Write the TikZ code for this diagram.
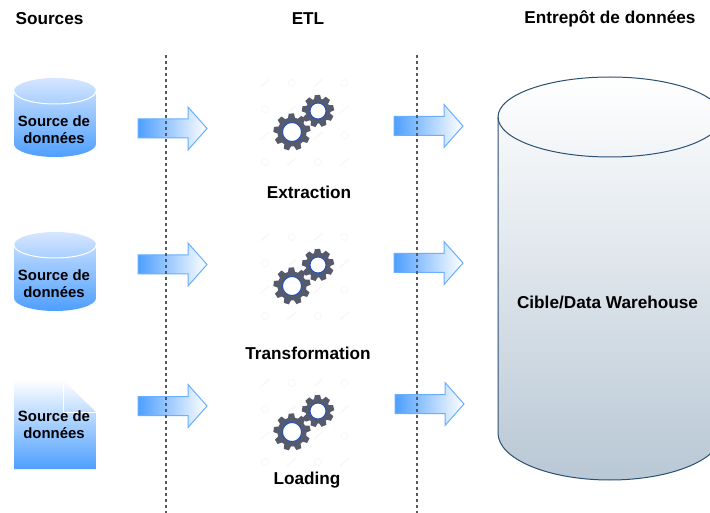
\documentclass[tikz,border=0pt]{standalone}
\usepackage{fontspec}
\setmainfont{Liberation Sans}
\definecolor{srcblue}{HTML}{4D9FFF}
\definecolor{srclight}{HTML}{D6E6FF}
\definecolor{arrowline}{HTML}{6AAEFF}
\definecolor{dwline}{HTML}{2B5072}
\definecolor{dwfill}{HTML}{B9C8D5}
\definecolor{gearc}{HTML}{555A6C}
\definecolor{gearring}{HTML}{1D4FC4}
\definecolor{mark}{HTML}{F8F8F8}
\tikzset{
  title/.style={font=\bfseries\fontsize{17.2}{20}\selectfont,align=center,text=black,inner sep=0pt},
  srclabel/.style={font=\bfseries\fontsize{14.9}{17}\selectfont,align=center,text=black,inner sep=0pt},
  sep/.style={draw=black!65,line width=1.2pt,dash pattern=on 3pt off 3pt},
  flow/.style={left color=srcblue,right color=white,draw=arrowline,line width=1pt,line join=miter},
  wm/.style={draw=mark,line width=1.6pt,line cap=round},
}
\newcommand{\flowarrow}[2]{% left x, centre y
  \path[flow,shift={(#1,#2)}] (0,-9.5) -- (50,-9.5) -- (50,-21.5) -- (69,0) -- (50,21.5) -- (50,9.5) -- (0,9.5) -- cycle;
}
\newcommand{\onegear}[6]{% x,y,root r,outer r,hole r,teeth
  \begin{scope}[shift={(#1,#2)}]
    \fill[gearc] (0,0) circle[radius=#3];
    \foreach \k in {1,...,#6}{
      \pgfmathsetmacro\ang{\k*360/#6+12}
      \fill[gearc,rotate=\ang] (#3-1,-3.6) -- (#4,-2.6) -- (#4,2.6) -- (#3-1,3.6) -- cycle;
    }
    \path[fill=white,draw=gearring,line width=.9pt] (0,0) circle[radius=#5];
  \end{scope}
}
\newcommand{\watermarks}[1]{% top row y
  \foreach \r in {0,1,2,3}{
    \foreach \c in {0,1,2,3}{
      \pgfmathsetmacro\mx{265+26.5*\c}
      \pgfmathsetmacro\my{#1+26.3*\r}
      \pgfmathparse{int(mod(\r+\c,2))}
      \ifnum\pgfmathresult=0
        \draw[wm] (\mx-4,\my+3.5) -- (\mx+4,\my-3.5);
      \else
        \draw[draw=mark,line width=1pt] (\mx,\my) circle[radius=3.5];
      \fi
    }
  }
}
\newcommand{\gearpair}[1]{% y of big gear
  \watermarks{#1-49}
  \onegear{318}{#1-21}{12.5}{16}{8}{9}
  \onegear{292}{#1}{14.5}{18.5}{9.5}{9}
}
\newcommand{\dbcyl}[1]{% top y
  \begin{scope}[shift={(55,#1)}]
    \path[top color=srclight,bottom color=srcblue] (-41,13) arc[start angle=180,end angle=0,x radius=41,y radius=-13] -- (41,66) arc[start angle=0,end angle=-180,x radius=41,y radius=-13] -- cycle;
    \draw[white,line width=1pt] (-41,13) arc[start angle=180,end angle=0,x radius=41,y radius=13];
  \end{scope}
}
\begin{document}
\begin{tikzpicture}[x=1pt,y=-1pt]
\clip (0,0) rectangle (710,513);
\fill[white] (0,0) rectangle (710,513);

% titles
\node[title] (tsources) at (49.5,18.5) {Sources};
\node[title] (tetl) at (308,18.5) {ETL};
\node[title] (tdw) at (610,18.5) {Entrepôt de données};

% sources
\dbcyl{78}
\node[srclabel] (s1) at (54,129.5) {Source de\\[0.5pt]données};
\dbcyl{232}
\node[srclabel] (s2) at (54,283.5) {Source de\\[0.5pt]données};
\path[top color=white,bottom color=srcblue] (14,380) -- (63,380) -- (96,412) -- (96,469) -- (14,469) -- cycle;
\draw[white,line width=1pt] (63,380) -- (63,412) -- (96,412);
\node[srclabel] (s3) at (54,424.5) {Source de\\[0.5pt]données};

% gears
\gearpair{132}
\gearpair{286}
\gearpair{432}
\node[title] (l1) at (309,192) {Extraction};
\node[title] (l2) at (308,353) {Transformation};
\node[title] (l3) at (307,480) {Loading};

% arrows
\flowarrow{138}{128.5}
\flowarrow{138}{264.5}
\flowarrow{138}{406}
\flowarrow{394}{126}
\flowarrow{394}{263}
\flowarrow{395}{404}

% separators
\coordinate (a1) at (166,55);
\coordinate (a2) at (166,513);
\coordinate (b1) at (417,55);
\coordinate (b2) at (417,513);
\draw[sep] (a1) -- (a2);
\draw[sep] (b1) -- (b2);

% warehouse
\path[top color=white,bottom color=dwfill,draw=dwline,line width=1pt]
  (498,117) arc[start angle=180,end angle=0,x radius=112,y radius=-40]
  -- (722,433) arc[start angle=0,end angle=-180,x radius=112,y radius=-47] -- cycle;
\draw[dwline,line width=1pt] (498,117) arc[start angle=180,end angle=0,x radius=112,y radius=40];
\node[title] (dw) at (607.5,302) {Cible/Data Warehouse};
\end{tikzpicture}
\end{document}
